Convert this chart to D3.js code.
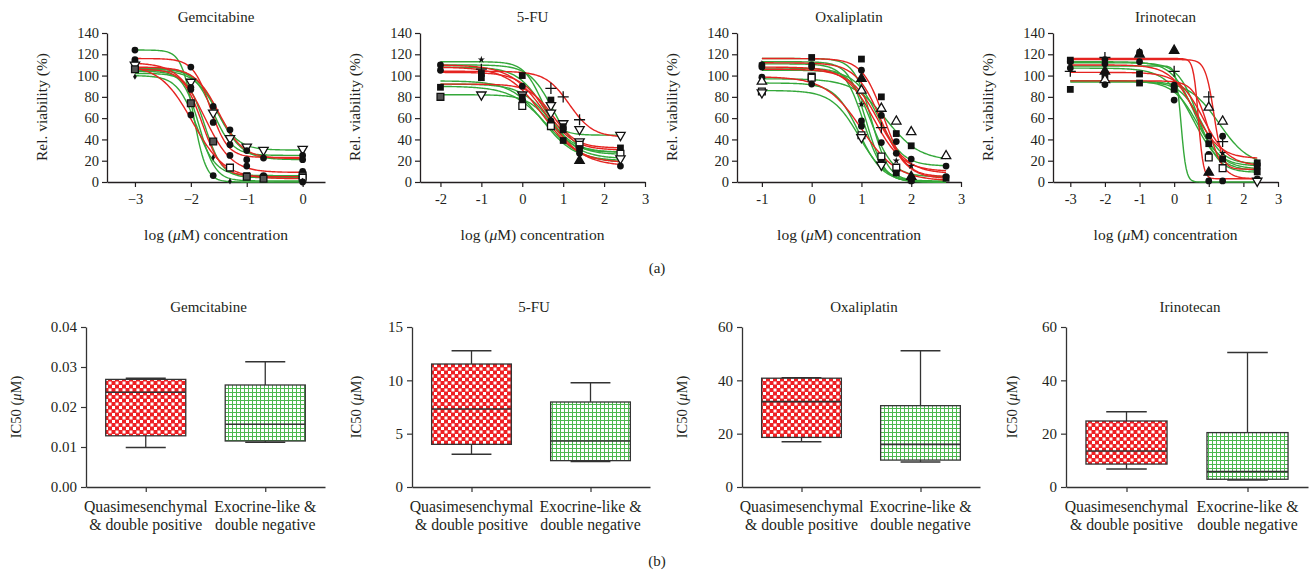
<!DOCTYPE html>
<html>
<head>
<meta charset="utf-8">
<script src="https://cdn.jsdelivr.net/npm/d3@7"></script>
<style>
body { margin: 0; background: #fff; }
svg { display: block; }
text { font-family: "Liberation Serif", "DejaVu Serif", serif; fill: #231f20; }
</style>
</head>
<body>
<svg id="fig" width="1312" height="571"></svg>
<script>
// ---- data ----
var drugs = ["Gemcitabine", "5-FU", "Oxaliplatin", "Irinotecan"];
var groups = ["Quasimesenchymal & double positive", "Exocrine-like & double negative"];
var groupLines = [["Quasimesenchymal", "& double positive"], ["Exocrine-like &", "double negative"]];

var viabTicks = [0, 20, 40, 60, 80, 100, 120, 140];
var gemDoseTicks = [-3, -2, -1, 0];
var fuDoseTicks = [-2, -1, 0, 1, 2, 3];
var oxaDoseTicks = [-1, 0, 1, 2, 3];
var iriDoseTicks = [-3, -2, -1, 0, 1, 2, 3];

// dose range of the tested concentrations (log uM)
var gemDoseRange = [-3, 0];
var fuDoseRange = [-2, 2.4];
var oxaDoseRange = [-1, 2.7];
var iriDoseRange = [-3, 2.4];

// fitted curves: [top, bottom, logIC50, hill]
var gemRed = [[116, 23, -1.65, 2.8], [112, 9, -1.75, 1.8], [110, 3, -1.97, 1.5], [108, 22, -1.5, 2.0], [106, 5, -1.8, 2.5]];
var gemGreen = [[124, 0, -1.95, 3.9], [107, 30, -1.55, 2.2], [105, 21, -1.5, 2.0], [102, 4, -1.75, 2.8], [100, 6, -1.9, 2.5], [104, 1, -1.85, 3.0], [106, 25, -1.6, 2.5]];
var fuRed = [[104, 42, 1.15, 1.5], [110, 15, 0.6, 1.0], [103, 30, 0.6, 1.3], [92, 32, 0.75, 1.5], [108, 18, 0.5, 1.0]];
var fuGreen = [[113, 44, 0.45, 2.0], [82, 28, 0.7, 1.5], [92, 22, 0.7, 1.2], [108, 28, 0.55, 1.3], [90, 18, 0.6, 1.0], [110, 26, 0.75, 1.5], [95, 20, 0.5, 1.1]];
var oxaRed = [[116, 5, 1.45, 2.0], [112, 3, 1.4, 1.7], [106, 8, 1.35, 1.5], [99, 1, 1.0, 1.2], [108, 10, 1.25, 1.5]];
var oxaGreen = [[116, 1, 1.2, 2.5], [111, 0, 1.05, 2.2], [97, 20, 1.5, 1.3], [93, 0, 0.95, 1.8], [86, 0, 0.95, 1.6], [107, 5, 1.2, 2.0], [113, 0, 1.1, 2.4], [105, 15, 1.35, 1.8]];
var iriRed = [[116, 3, 0.7, 6], [115, 12, 1.15, 3.5], [103, 15, 0.85, 1.2], [110, 22, 0.6, 1.2], [95, 3, 1.0, 2.0]];
var iriGreen = [[109, 0, 0.2, 6], [95, 15, 1.3, 1.0], [95, 12, 0.7, 1.2], [107, 10, 0.55, 1.1], [113, 15, 0.6, 1.3], [112, 9, 0.7, 1.5], [94, 17, 0.8, 1.4]];

// measured points: [log dose, viability, marker]
var gemPoints = [
  [-3, 124, "c"], [-3, 115, "c"], [-3, 113, "c"], [-3, 110, "td"], [-3, 106, "gs"], [-3, 99, "d"],
  [-2, 108, "c"], [-2, 94, "td"], [-2, 89, "c"], [-2, 87, "c"], [-2, 74, "gs"], [-2, 63, "c"],
  [-1.6, 71, "c"], [-1.6, 65, "td"], [-1.6, 56, "c"], [-1.6, 38, "gs"], [-1.6, 23, "d"], [-1.6, 6, "c"],
  [-1.3, 49, "c"], [-1.3, 41, "td"], [-1.3, 35, "c"], [-1.3, 25, "c"], [-1.3, 13.5, "os"], [-1.3, 0.6, "d"],
  [-1, 33, "td"], [-1, 29.5, "c"], [-1, 21, "c"], [-1, 15, "c"], [-1, 6, "s"], [-1, 5, "gs"],
  [-0.7, 30, "td"], [-0.7, 22.5, "c"], [-0.7, 6, "c"], [-0.7, 4.5, "s"], [-0.7, 3, "gs"],
  [0, 31, "td"], [0, 25, "c"], [0, 21, "c"], [0, 10, "c"], [0, 6, "gs"], [0, 4, "os"], [0, 1, "d"], [0, 0, "c"]
];
var fuPoints = [
  [-2, 110, "c"], [-2, 105, "c"], [-2, 89, "s"], [-2, 80, "gs"],
  [-1, 115, "st"], [-1, 106, "p"], [-1, 102, "s"], [-1, 98, "s"], [-1, 82, "td"],
  [0, 100, "s"], [0, 90, "c"], [0, 82, "td"], [0, 80, "s"], [0, 77, "c"], [0, 75, "s"], [0, 71.5, "os"],
  [0.7, 88, "p"], [0.7, 77, "s"], [0.7, 72, "td"], [0.7, 65, "td"], [0.7, 57.5, "c"], [0.7, 52.5, "os"],
  [1, 80, "p"], [1, 55, "td"], [1, 52, "s"], [1, 49, "s"], [1, 39, "s"],
  [1.4, 58.5, "p"], [1.4, 49.5, "td"], [1.4, 38, "td"], [1.4, 35, "os"], [1.4, 31.5, "s"], [1.4, 27, "c"], [1.4, 20, "t"],
  [2.4, 44, "td"], [2.4, 32, "s"], [2.4, 26.5, "os"], [2.4, 22, "td"], [2.4, 15, "c"]
];
var oxaPoints = [
  [-1, 111, "st"], [-1, 110, "c"], [-1, 108, "c"], [-1, 98.5, "c"], [-1, 94.5, "ot"], [-1, 85, "os"], [-1, 84, "td"],
  [0, 117, "s"], [0, 110, "c"], [0, 108, "c"], [0, 99, "gs"], [0, 98, "os"], [0, 92, "c"],
  [1, 115.5, "s"], [1, 105, "c"], [1, 97, "t"], [1, 86, "ot"], [1, 73, "st"], [1, 57.5, "c"], [1, 52.5, "c"], [1, 44, "os"], [1, 42, "td"],
  [1.4, 80, "s"], [1.4, 69, "ot"], [1.4, 62.5, "c"], [1.4, 51, "p"], [1.4, 37, "c"], [1.4, 24, "os"], [1.4, 18.5, "s"], [1.4, 16, "td"],
  [1.7, 57, "ot"], [1.7, 45.5, "s"], [1.7, 38, "c"], [1.7, 27, "c"], [1.7, 20, "st"], [1.7, 13.5, "os"], [1.7, 8.5, "s"],
  [2, 47, "ot"], [2, 34, "s"], [2, 21.5, "c"], [2, 15, "st"], [2, 5, "t"], [2, 2, "s"], [2, 1, "c"],
  [2.7, 24.5, "ot"], [2.7, 15, "c"], [2.7, 5, "c"], [2.7, 3.5, "s"]
];
var iriPoints = [
  [-3, 114.5, "s"], [-3, 113, "c"], [-3, 107, "c"], [-3, 104, "p"], [-3, 87, "s"],
  [-2, 117, "p"], [-2, 115, "c"], [-2, 111, "c"], [-2, 104, "t"], [-2, 100, "s"], [-2, 96, "ot"], [-2, 91.5, "c"],
  [-1, 122, "c"], [-1, 120, "t"], [-1, 113, "c"], [-1, 101.5, "s"], [-1, 93, "s"],
  [0, 123.5, "t"], [0, 104, "p"], [0, 91, "c"], [0, 87, "s"], [0, 77, "c"],
  [1, 80, "p"], [1, 70, "ot"], [1, 43, "c"], [1, 36, "s"], [1, 26, "c"], [1, 23, "os"], [1, 9, "t"], [1, 1, "c"],
  [1.4, 57, "ot"], [1.4, 43, "c"], [1.4, 38, "p"], [1.4, 27, "st"], [1.4, 21.5, "s"], [1.4, 13, "os"], [1.4, 1, "c"],
  [2.4, 18, "s"], [2.4, 15, "s"], [2.4, 9.5, "s"], [2.4, 3, "c"], [2.4, 1, "td"]
];

// IC50 box stats per group: [min, q1, median, q3, max]
var gemBox = [[0.0099, 0.0128, 0.0237, 0.0269, 0.0272], [0.0112, 0.0115, 0.0157, 0.0255, 0.0313]];
var fuBox = [[3.06, 4.0, 7.31, 11.53, 12.78], [2.38, 2.47, 4.31, 7.97, 9.78]];
var oxaBox = [[17.0, 18.6, 32.0, 40.8, 41.0], [9.4, 10.1, 16.0, 30.5, 51.1]];
var iriBox = [[6.75, 8.6, 13.5, 24.75, 28.2], [2.6, 2.9, 5.75, 20.4, 50.4]];

var gemIcTicks = [0, 0.01, 0.02, 0.03, 0.04];
var fuIcTicks = [0, 5, 10, 15];
var oxaIcTicks = [0, 20, 40, 60];
var iriIcTicks = [0, 20, 40, 60];

// ---- layout ----
var RED = "#e52421", GREEN = "#34a83a";
var svg = d3.select("#fig");

var topPanels = [
  { title: drugs[0], x0: 107, x1: 325, dom: [-3.5, 0.4], ticks: gemDoseTicks, minus: true, range: gemDoseRange, red: gemRed, green: gemGreen, pts: gemPoints },
  { title: drugs[1], x0: 420, x1: 645, dom: [-2.5, 3], ticks: fuDoseTicks, minus: false, range: fuDoseRange, red: fuRed, green: fuGreen, pts: fuPoints },
  { title: drugs[2], x0: 737, x1: 961, dom: [-1.5, 3], ticks: oxaDoseTicks, minus: false, range: oxaDoseRange, red: oxaRed, green: oxaGreen, pts: oxaPoints },
  { title: drugs[3], x0: 1053, x1: 1278, dom: [-3.5, 3], ticks: iriDoseTicks, minus: false, range: iriDoseRange, red: iriRed, green: iriGreen, pts: iriPoints }
];

var botPanels = [
  { title: drugs[0], x0: 86, x1: 325, max: 0.04, ticks: gemIcTicks, fmt: d3.format(".2f"), box: gemBox, labOff: 69 },
  { title: drugs[1], x0: 412, x1: 650, max: 15, ticks: fuIcTicks, fmt: d3.format("d"), box: fuBox, labOff: 55 },
  { title: drugs[2], x0: 742, x1: 980, max: 60, ticks: oxaIcTicks, fmt: d3.format("d"), box: oxaBox, labOff: 59 },
  { title: drugs[3], x0: 1066, x1: 1308, max: 60, ticks: iriIcTicks, fmt: d3.format("d"), box: iriBox, labOff: 53 }
];

// patterns
var defs = svg.append("defs");
var pr = defs.append("pattern").attr("id", "redChk").attr("patternUnits", "userSpaceOnUse")
  .attr("width", 7).attr("height", 7);
pr.append("rect").attr("width", 7).attr("height", 7).attr("fill", "#ee2024");
pr.append("rect").attr("x", 0).attr("y", 0).attr("width", 3).attr("height", 3).attr("fill", "#fff");
pr.append("rect").attr("x", 3.5).attr("y", 3.5).attr("width", 3).attr("height", 3).attr("fill", "#fff");

var pg = defs.append("pattern").attr("id", "greenGrid").attr("patternUnits", "userSpaceOnUse")
  .attr("width", 4).attr("height", 4);
pg.append("rect").attr("width", 4).attr("height", 4).attr("fill", "#fff");
pg.append("path").attr("d", "M0.5,0V4M0,0.5H4").attr("stroke", "#4cb84f").attr("stroke-width", 1);

function logistic(c, x) {
  return c[1] + (c[0] - c[1]) / (1 + Math.pow(10, c[3] * (x - c[2])));
}

function symbolFor(k) {
  if (k == "c") return d3.symbol(d3.symbolCircle, 36);
  if (k == "s" || k == "gs" || k == "os") return d3.symbol(d3.symbolSquare, 46);
  if (k == "t" || k == "ot" || k == "td") return d3.symbol(d3.symbolTriangle, 38);
  if (k == "p") return d3.symbol(d3.symbolPlus, 42);
  if (k == "st") return d3.symbol(d3.symbolStar, 16);
  return d3.symbol(d3.symbolDiamond, 12);
}

topPanels.forEach(function(p) {
  var x = d3.scaleLinear().domain(p.dom).range([p.x0, p.x1]);
  var y = d3.scaleLinear().domain([0, 140]).range([182, 33]);
  var g = svg.append("g");

  var xa = g.append("g").attr("transform", "translate(0,182)")
    .call(d3.axisBottom(x).tickValues(p.ticks).tickSize(5).tickSizeOuter(0)
      .tickFormat(function(d) { return p.minus ? d3.format("")(d) : String(d); }));
  var ya = g.append("g").attr("transform", "translate(" + p.x0 + ",0)")
    .call(d3.axisLeft(y).tickValues(viabTicks).tickSize(5).tickSizeOuter(0));
  [xa, ya].forEach(function(a) {
    a.select(".domain").attr("stroke", "#231f20").attr("stroke-width", 1.3);
    a.selectAll(".tick line").attr("stroke", "#231f20").attr("stroke-width", 1.2);
    a.selectAll(".tick text").style("font-size", "14.5px").attr("fill", "#231f20")
      .style("font-family", "Liberation Serif");
  });
  xa.selectAll(".tick text").attr("dy", "0.71em").attr("y", 12);
  ya.selectAll(".tick text").attr("x", -8);

  var xs = d3.range(p.range[0], p.range[1] + 0.001, (p.range[1] - p.range[0]) / 150);
  var line = d3.line().x(function(d) { return x(d[0]); }).y(function(d) { return y(d[1]); });
  function drawCurves(arr, col) {
    g.selectAll(null).data(arr).enter().append("path")
      .attr("d", function(c) { return line(xs.map(function(v) { return [v, logistic(c, v)]; })); })
      .attr("fill", "none").attr("stroke", col).attr("stroke-width", 1.4);
  }
  drawCurves(p.green, GREEN);
  drawCurves(p.red, RED);

  g.selectAll(null).data(p.pts).enter().append("path")
    .attr("transform", function(d) {
      return "translate(" + x(d[0]) + "," + y(d[1]) + ")" + (d[2] == "td" ? " rotate(180)" : "");
    })
    .attr("d", function(d) { return symbolFor(d[2])(); })
    .attr("fill", function(d) {
      if (d[2] == "os" || d[2] == "ot" || d[2] == "td") return "#fff";
      if (d[2] == "gs") return "#555";
      if (d[2] == "p") return "none";
      return "#111";
    })
    .attr("stroke", "#111")
    .attr("stroke-width", function(d) { return (d[2] == "c" || d[2] == "s" || d[2] == "st" || d[2] == "d") ? 0 : 1.3; });

  var cx = (p.x0 + p.x1) / 2;
  g.append("text").attr("x", cx).attr("y", 22).attr("text-anchor", "middle")
    .style("font-size", "15px").text(p.title);
  var xl = g.append("text").attr("x", cx).attr("y", 240).attr("text-anchor", "middle")
    .style("font-size", "15.5px");
  xl.append("tspan").text("log (");
  xl.append("tspan").style("font-style", "italic").text("μ");
  xl.append("tspan").text("M) concentration");
  g.append("text").attr("transform", "translate(" + (p.x0 - 60) + ",107) rotate(-90)")
    .attr("text-anchor", "middle").style("font-size", "15.5px").text("Rel. viability (%)");
});

svg.append("text").attr("x", 657).attr("y", 273).attr("text-anchor", "middle")
  .style("font-size", "15px").text("(a)");

botPanels.forEach(function(p) {
  var x = d3.scalePoint().domain(groups).range([p.x0, p.x1]).padding(0.5);
  var y = d3.scaleLinear().domain([0, p.max]).range([487, 327]);
  var bw = x.step() * 0.67;
  var g = svg.append("g");

  var xa = g.append("g").attr("transform", "translate(0,487)")
    .call(d3.axisBottom(x).tickSize(5).tickSizeOuter(0).tickFormat(""));
  var ya = g.append("g").attr("transform", "translate(" + p.x0 + ",0)")
    .call(d3.axisLeft(y).tickValues(p.ticks).tickSize(5).tickSizeOuter(0).tickFormat(p.fmt));
  [xa, ya].forEach(function(a) {
    a.select(".domain").attr("stroke", "#333").attr("stroke-width", 1.3);
    a.selectAll(".tick line").attr("stroke", "#333").attr("stroke-width", 1.2);
    a.selectAll(".tick text").style("font-size", "15px").attr("fill", "#333")
      .style("font-family", "Liberation Serif");
  });
  ya.selectAll(".tick text").attr("x", -9);

  groups.forEach(function(gr, i) {
    var s = p.box[i], c = x(gr);
    var wl = "#333";
    g.append("line").attr("x1", c).attr("x2", c).attr("y1", y(s[3])).attr("y2", y(s[4]))
      .attr("stroke", wl).attr("stroke-width", 1.3);
    g.append("line").attr("x1", c).attr("x2", c).attr("y1", y(s[1])).attr("y2", y(s[0]))
      .attr("stroke", wl).attr("stroke-width", 1.3);
    [s[0], s[4]].forEach(function(v) {
      g.append("line").attr("x1", c - bw / 4).attr("x2", c + bw / 4).attr("y1", y(v)).attr("y2", y(v))
        .attr("stroke", wl).attr("stroke-width", 1.5);
    });
    g.append("rect").attr("x", c - bw / 2).attr("width", bw)
      .attr("y", y(s[3])).attr("height", y(s[1]) - y(s[3]))
      .attr("fill", i == 0 ? "url(#redChk)" : "url(#greenGrid)")
      .attr("stroke", "#333").attr("stroke-width", 1.3);
    g.append("line").attr("x1", c - bw / 2).attr("x2", c + bw / 2).attr("y1", y(s[2])).attr("y2", y(s[2]))
      .attr("stroke", "#333").attr("stroke-width", 1.6);

    groupLines[i].forEach(function(t, j) {
      g.append("text").attr("x", c).attr("y", 512 + j * 18).attr("text-anchor", "middle")
        .style("font-size", "15.8px").attr("fill", "#333").text(t);
    });
  });

  g.append("text").attr("x", (p.x0 + p.x1) / 2 + 3).attr("y", 312).attr("text-anchor", "middle")
    .style("font-size", "15px").attr("fill", "#333").text(p.title);
  var yl = g.append("text").attr("transform", "translate(" + (p.x0 - p.labOff + 4) + ",407) rotate(-90)")
    .attr("text-anchor", "middle").style("font-size", "14.5px").attr("fill", "#333");
  yl.append("tspan").text("IC50 (");
  yl.append("tspan").style("font-style", "italic").text("μ");
  yl.append("tspan").text("M)");
});

svg.append("text").attr("x", 657).attr("y", 566).attr("text-anchor", "middle")
  .style("font-size", "15px").text("(b)");
</script>
</body>
</html>
